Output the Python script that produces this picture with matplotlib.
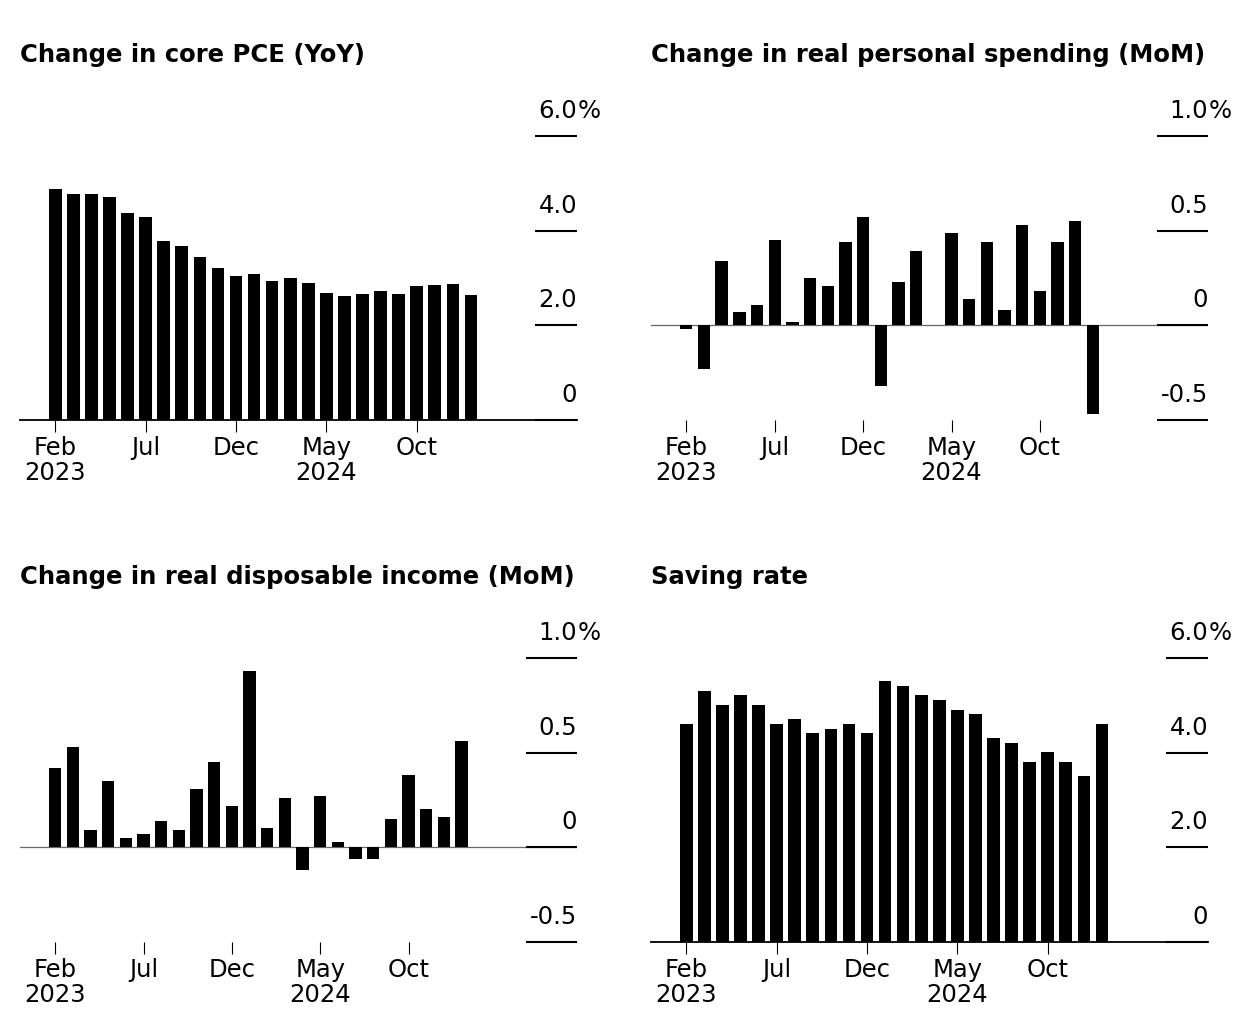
import matplotlib
matplotlib.use('Agg')
import matplotlib.pyplot as plt

# monthly data, Feb 2023 - Jan 2025
months = ['Feb 2023', 'Mar 2023', 'Apr 2023', 'May 2023', 'Jun 2023', 'Jul 2023',
          'Aug 2023', 'Sep 2023', 'Oct 2023', 'Nov 2023', 'Dec 2023', 'Jan 2024',
          'Feb 2024', 'Mar 2024', 'Apr 2024', 'May 2024', 'Jun 2024', 'Jul 2024',
          'Aug 2024', 'Sep 2024', 'Oct 2024', 'Nov 2024', 'Dec 2024', 'Jan 2025']
tick_idx = [0, 5, 10, 15, 20]
tick_labels = ['Feb\n2023', 'Jul', 'Dec', 'May\n2024', 'Oct']

core_pce = [4.87, 4.78, 4.78, 4.72, 4.37, 4.28, 3.78, 3.67, 3.45, 3.22, 3.04, 3.08,
            2.93, 2.99, 2.89, 2.68, 2.63, 2.67, 2.73, 2.67, 2.83, 2.85, 2.87, 2.65]
real_spending = [-0.02, -0.23, 0.34, 0.07, 0.11, 0.45, 0.02, 0.25, 0.21, 0.44, 0.57, -0.32,
                 0.23, 0.39, 0.004, 0.49, 0.14, 0.44, 0.08, 0.53, 0.18, 0.44, 0.55, -0.47]
real_income = [0.42, 0.53, 0.09, 0.35, 0.05, 0.07, 0.14, 0.09, 0.31, 0.45, 0.22, 0.93,
               0.10, 0.26, -0.12, 0.27, 0.03, -0.06, -0.06, 0.15, 0.38, 0.20, 0.16, 0.56]
saving_rate = [4.61, 5.31, 5.01, 5.21, 5.01, 4.61, 4.71, 4.41, 4.51, 4.61, 4.41, 5.52,
               5.41, 5.21, 5.11, 4.91, 4.81, 4.31, 4.21, 3.81, 4.01, 3.81, 3.51, 4.61]

W, H = 1248, 1036
fig = plt.figure(figsize=(W / 100, H / 100), dpi=100)
plt.rcParams['font.family'] = ['DejaVu Sans']

AX_W, AX_H = 557, 284
panels = [
    # title, values, ylim, yticks, ylabels, left px, bottom px, stub px, bar spacing px, baseline axis
    ('Change in core PCE (YoY)', core_pce, (0, 6), [0, 2, 4, 6], ['0', '2.0', '4.0', '6.0'],
     20, 420, 42, 18.07, True),
    ('Change in real personal spending (MoM)', real_spending, (-0.5, 1.0), [-0.5, 0, 0.5, 1.0],
     ['-0.5', '0', '0.5', '1.0'], 651, 420, 51, 17.68, False),
    ('Change in real disposable income (MoM)', real_income, (-0.5, 1.0), [-0.5, 0, 0.5, 1.0],
     ['-0.5', '0', '0.5', '1.0'], 20, 942, 51, 17.66, False),
    ('Saving rate', saving_rate, (0, 6), [0, 2, 4, 6], ['0', '2.0', '4.0', '6.0'],
     651, 942, 42, 18.07, True),
]

for title, vals, ylim, yticks, ylabels, left, bottom, stub, sp, base in panels:
    ax = fig.add_axes([left / W, 1 - bottom / H, AX_W / W, AX_H / H])
    ax.bar(range(len(vals)), vals, width=0.7, color='black', zorder=3)
    ax.set_xlim(-35.3 / sp, (AX_W - 35.3) / sp)
    ax.set_ylim(*ylim)
    ax.set_yticks([])
    ax.set_xticks(tick_idx, tick_labels)
    ax.tick_params(axis='x', length=8.5, width=0.8, color='black', pad=3,
                   labelsize=17.5)
    for lbl in ax.get_xticklabels():
        lbl.set_linespacing(1.07)
    for s in ['top', 'right', 'left']:
        ax.spines[s].set_visible(False)
    if base:
        ax.spines['bottom'].set_linewidth(1.3)
        ax.spines['bottom'].set_color('black')
    else:
        ax.spines['bottom'].set_visible(False)
        ax.axhline(0, color='#666666', lw=0.9, zorder=2)

    # right-hand tick stubs and labels
    ytr = ax.get_yaxis_transform()
    ax.hlines(yticks, 1 - stub / AX_W, 1, transform=ytr, color='black', lw=1.5,
              zorder=4, clip_on=False)
    for yt, lab in zip(yticks, ylabels):
        ax.annotate(lab, xy=(1, yt), xycoords=ytr, xytext=(0, 13),
                    textcoords='offset points', ha='right', va='baseline',
                    fontsize=17.5, annotation_clip=False)
    ax.annotate('%', xy=(1, yticks[-1]), xycoords=ytr, xytext=(0.5, 13),
                textcoords='offset points', ha='left', va='baseline',
                fontsize=17.5, annotation_clip=False)

    fig.text(left / W, 1 - (bottom - 358.3) / H, title, fontsize=17.5,
             fontweight='bold', va='baseline', ha='left')

fig.savefig('out.png', dpi=100, facecolor='white')
